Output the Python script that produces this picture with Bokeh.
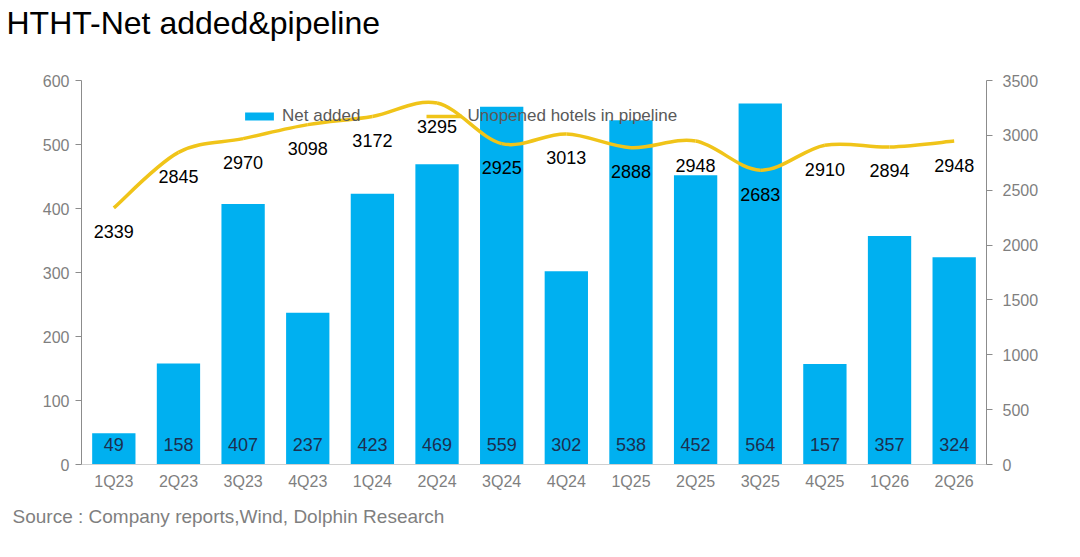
from bokeh.plotting import figure
from bokeh.models import Range1d, LinearAxis, FixedTicker, Legend, LegendItem, Title
from bokeh.core.properties import value
from bokeh.embed import file_html
from bokeh.resources import INLINE

quarters = ["1Q23", "2Q23", "3Q23", "4Q23", "1Q24", "2Q24", "3Q24", "4Q24",
            "1Q25", "2Q25", "3Q25", "4Q25", "1Q26", "2Q26"]
net_added = [49, 158, 407, 237, 423, 469, 559, 302, 538, 452, 564, 157, 357, 324]
pipeline = [2339, 2845, 2970, 3098, 3172, 3295, 2925, 3013, 2888, 2948, 2683, 2910, 2894, 2948]
left_ticks = [0, 100, 200, 300, 400, 500, 600]
right_ticks = [0, 500, 1000, 1500, 2000, 2500, 3000, 3500]

FONT = "Liberation Sans"
BAR = "#00B0F0"
LINE = "#F0C419"
GREY = "#7f7f7f"

n = len(quarters)
xs = [i + 0.5 for i in range(n)]

p = figure(width=1064, height=541, output_backend="svg", toolbar_location=None,
           x_range=Range1d(0, 14), y_range=Range1d(0, 600),
           min_border_left=81, min_border_right=78, min_border_top=80, min_border_bottom=77)
p.extra_y_ranges = {"right": Range1d(0, 3500)}
p.outline_line_color = None
p.grid.visible = False
p.background_fill_color = "white"
p.border_fill_color = "white"

# title, with a blank spacer panel between it and the frame
p.title.text = "HTHT-Net added&pipeline"
p.title.text_font = FONT
p.title.text_font_size = "32px"
p.title.text_font_style = "normal"
p.title.text_color = "black"
p.title.align = "left"
p.title.offset = -75
p.title.standoff = 0
spacer = Title(text=" ", text_font_size="2px", standoff=36)
p.add_layout(spacer, "above")

# axes
p.xaxis.ticker = FixedTicker(ticks=xs)
p.xaxis.major_label_overrides = {x: q for x, q in zip(xs, quarters)}
p.xaxis.major_tick_line_color = None
p.xaxis.major_tick_out = 0
p.xaxis.major_tick_in = 0
p.xaxis.minor_tick_line_color = None
p.xaxis.axis_line_color = "#d0d0d0"
p.xaxis.major_label_text_color = GREY
p.xaxis.major_label_text_font = FONT
p.xaxis.major_label_text_font_size = "16px"
p.xaxis.major_label_standoff = 8

p.yaxis.ticker = FixedTicker(ticks=left_ticks)
p.yaxis.axis_line_color = "#8c8c8c"
p.yaxis.major_tick_line_color = "#8c8c8c"
p.yaxis.major_tick_in = 0
p.yaxis.major_tick_out = 6
p.yaxis.minor_tick_line_color = None
p.yaxis.major_label_text_color = GREY
p.yaxis.major_label_text_font = FONT
p.yaxis.major_label_text_font_size = "16px"
p.yaxis.major_label_standoff = 6

ry = LinearAxis(y_range_name="right", ticker=FixedTicker(ticks=right_ticks))
ry.axis_line_color = "#8c8c8c"
ry.major_tick_line_color = "#8c8c8c"
ry.major_tick_in = 0
ry.major_tick_out = 6
ry.minor_tick_line_color = None
ry.major_label_text_color = GREY
ry.major_label_text_font = FONT
ry.major_label_text_font_size = "16px"
ry.major_label_standoff = 10
p.add_layout(ry, "right")

# bars
bars = p.vbar(x=xs, top=net_added, width=0.67, fill_color=BAR, line_color=None)

# smooth line through pipeline values (Bezier segments)
P = pipeline
x0, y0, x1, y1, cx0, cy0, cx1, cy1 = [], [], [], [], [], [], [], []
for i in range(n - 1):
    xp, yp = xs[max(i - 1, 0)], P[max(i - 1, 0)]
    xa, ya = xs[i], P[i]
    xb, yb = xs[i + 1], P[i + 1]
    xn, yn = xs[min(i + 2, n - 1)], P[min(i + 2, n - 1)]
    x0.append(xa); y0.append(ya); x1.append(xb); y1.append(yb)
    cx0.append(xa + (xb - xp) / 6.0); cy0.append(ya + (yb - yp) / 6.0)
    cx1.append(xb - (xn - xa) / 6.0); cy1.append(yb - (yn - ya) / 6.0)
p.bezier(x0=x0, y0=y0, x1=x1, y1=y1, cx0=cx0, cy0=cy0, cx1=cx1, cy1=cy1,
         line_color=LINE, line_width=3.5, y_range_name="right")
legend_line = p.line(x=xs[:1], y=pipeline[:1], line_color=LINE, line_width=3.5,
                     y_range_name="right")

# value labels
p.text(x=xs, y=[0] * n, text=[str(v) for v in net_added], y_offset=-20,
       text_align="center", text_baseline="middle", text_color="#1c2f4f",
       text_font=value(FONT), text_font_size="18px")
p.text(x=xs, y=pipeline, text=[str(v) for v in pipeline], y_offset=24,
       text_align="center", text_baseline="middle", text_color="black",
       text_font=value(FONT), text_font_size="18px", y_range_name="right")

# legend
leg = Legend(items=[LegendItem(label="Net added", renderers=[bars]),
                    LegendItem(label="Unopened hotels in pipeline", renderers=[legend_line])],
             orientation="horizontal", location=(160, 338))
leg.background_fill_alpha = 0
leg.border_line_color = None
leg.padding = 0
leg.margin = 0
leg.spacing = 66
leg.glyph_width = 36
leg.glyph_height = 10
leg.label_standoff = 5
leg.label_text_font = FONT
leg.label_text_font_size = "17px"
leg.label_text_color = "#595959"
p.add_layout(leg, "center")

# source note
src = Title(text="Source : Company reports,Wind, Dolphin Research", align="left",
            text_font=FONT, text_font_size="19px", text_color=GREY,
            text_font_style="normal", offset=-69, standoff=22)
p.add_layout(src, "below")

open("out.html", "w").write(file_html(p, INLINE))
